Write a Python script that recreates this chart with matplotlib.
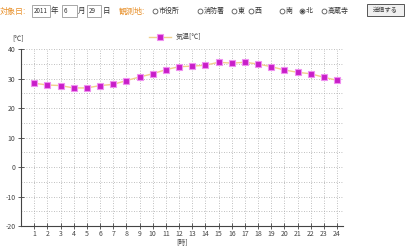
import matplotlib
matplotlib.use("Agg")
import matplotlib.pyplot as plt
from matplotlib.patches import Rectangle

plt.rcParams['font.family'] = ['Noto Sans CJK JP', 'DejaVu Sans']
plt.rcParams['axes.unicode_minus'] = False

hours = list(range(1, 25))
temps = [28.4, 27.8, 27.6, 26.8, 26.8, 27.6, 28.0, 29.3, 30.5, 31.6, 33.0, 34.0,
         34.2, 34.5, 35.5, 35.2, 35.5, 34.9, 34.0, 32.9, 32.1, 31.6, 30.4, 29.4]
yticks = [-20, -10, 0, 10, 20, 30, 40]
series_label = '気温[℃]'
y_unit = '[℃]'
x_unit = '[時]'
stations = ['市役所', '消防署', '東', '西', '南', '北', '高蔵寺']
selected = '北'

W, H = 420, 252
fig = plt.figure(figsize=(4.2, 2.52), dpi=100)
fig.patch.set_facecolor('white')

ax = fig.add_axes([21 / W, 1 - 226 / H, (343 - 21) / W, (226 - 49) / H])
ax.set_xlim(0, 24.45)
ax.set_ylim(-20, 40)

grid_kw = dict(color='#aaaaaa', linestyle=(0, (1, 2)), linewidth=0.6, zorder=0)
for h in hours:
    ax.axvline(h, **grid_kw)
ax.axvline(24.45, **grid_kw)
for v in range(-15, 41, 5):
    ax.axhline(v, **grid_kw)

line_color = '#f0d08c'
ax.plot(hours, temps, color=line_color, linewidth=1.0, zorder=2)
ax.plot(hours, temps, linestyle='none', marker='s', markersize=4.0,
        markerfacecolor='#c81ec8', markeredgecolor='#f090f0', markeredgewidth=0.8, zorder=3)

ax.set_xticks(hours)
ax.set_yticks(yticks)
ax.tick_params(axis='both', direction='inout', length=4, width=0.6, color='#444444',
               labelsize=5, labelcolor='#444444', pad=2)
ax.tick_params(axis='x', pad=1)
for s in ['top', 'right']:
    ax.spines[s].set_visible(False)
for s in ['left', 'bottom']:
    ax.spines[s].set_color('#444444')
    ax.spines[s].set_linewidth(0.8)

def px(x, y):
    return x / W, 1 - y / H

fig.text(*px(12, 38), y_unit, fontsize=5, color='#444444', va='center', ha='left')
fig.text(*px(182, 243), x_unit, fontsize=5, color='#444444', va='center', ha='center')

# legend
fig.add_artist(plt.Line2D([149 / W, 171 / W], [1 - 37 / H] * 2, color=line_color, linewidth=1.0))
fig.add_artist(plt.Line2D([160 / W], [1 - 37 / H], marker='s', markersize=4.0,
                          markerfacecolor='#c81ec8', markeredgecolor='#f090f0', markeredgewidth=0.8))
fig.text(*px(176, 37), series_label, fontsize=5, color='#444444', va='center', ha='left')

# header form
orange = '#e8902a'
dark = '#333333'
hy = 11
fs = 5.8
fig.text(*px(0, hy), '対象日:', fontsize=fs, color=orange, va='center', ha='left')

def box(x0, x1, label):
    fig.add_artist(Rectangle((x0 / W, 1 - 17 / H), (x1 - x0) / W, 12 / H,
                             facecolor='white', edgecolor='#999999', linewidth=0.6,
                             transform=fig.transFigure))
    fig.text(*px(x0 + 2, hy), label, fontsize=4.5, color=dark, va='center', ha='left')

box(32, 50, '2011')
fig.text(*px(51, hy), '年', fontsize=5.4, color=dark, va='center', ha='left')
box(62, 77, '6')
fig.text(*px(78, hy), '月', fontsize=5.4, color=dark, va='center', ha='left')
box(87, 101, '29')
fig.text(*px(103, hy), '日', fontsize=5.4, color=dark, va='center', ha='left')
fig.text(*px(119, hy), '観測地:', fontsize=fs, color=orange, va='center', ha='left')

circle_x = [155, 200, 234, 251, 282, 302, 324]
for cx, name in zip(circle_x, stations):
    fig.add_artist(plt.Line2D([cx / W], [1 - hy / H], marker='o', markersize=3.5,
                              markerfacecolor='white', markeredgecolor='#555555',
                              markeredgewidth=0.6))
    if name == selected:
        fig.add_artist(plt.Line2D([cx / W], [1 - hy / H], marker='o', markersize=1.2,
                                  markerfacecolor='#444444', markeredgecolor='#444444'))
    fig.text(*px(cx + 3.5, hy), name, fontsize=5.0, color=dark, va='center', ha='left')

fig.add_artist(Rectangle((367 / W, 1 - 16 / H), 37 / W, 12 / H, facecolor='#f0f0f0',
                         edgecolor='#555555', linewidth=0.7, transform=fig.transFigure))
fig.text(*px(385.5, 10), '送信する', fontsize=4.5, color=dark, va='center', ha='center')

fig.savefig('out.png', dpi=100, facecolor='white')
